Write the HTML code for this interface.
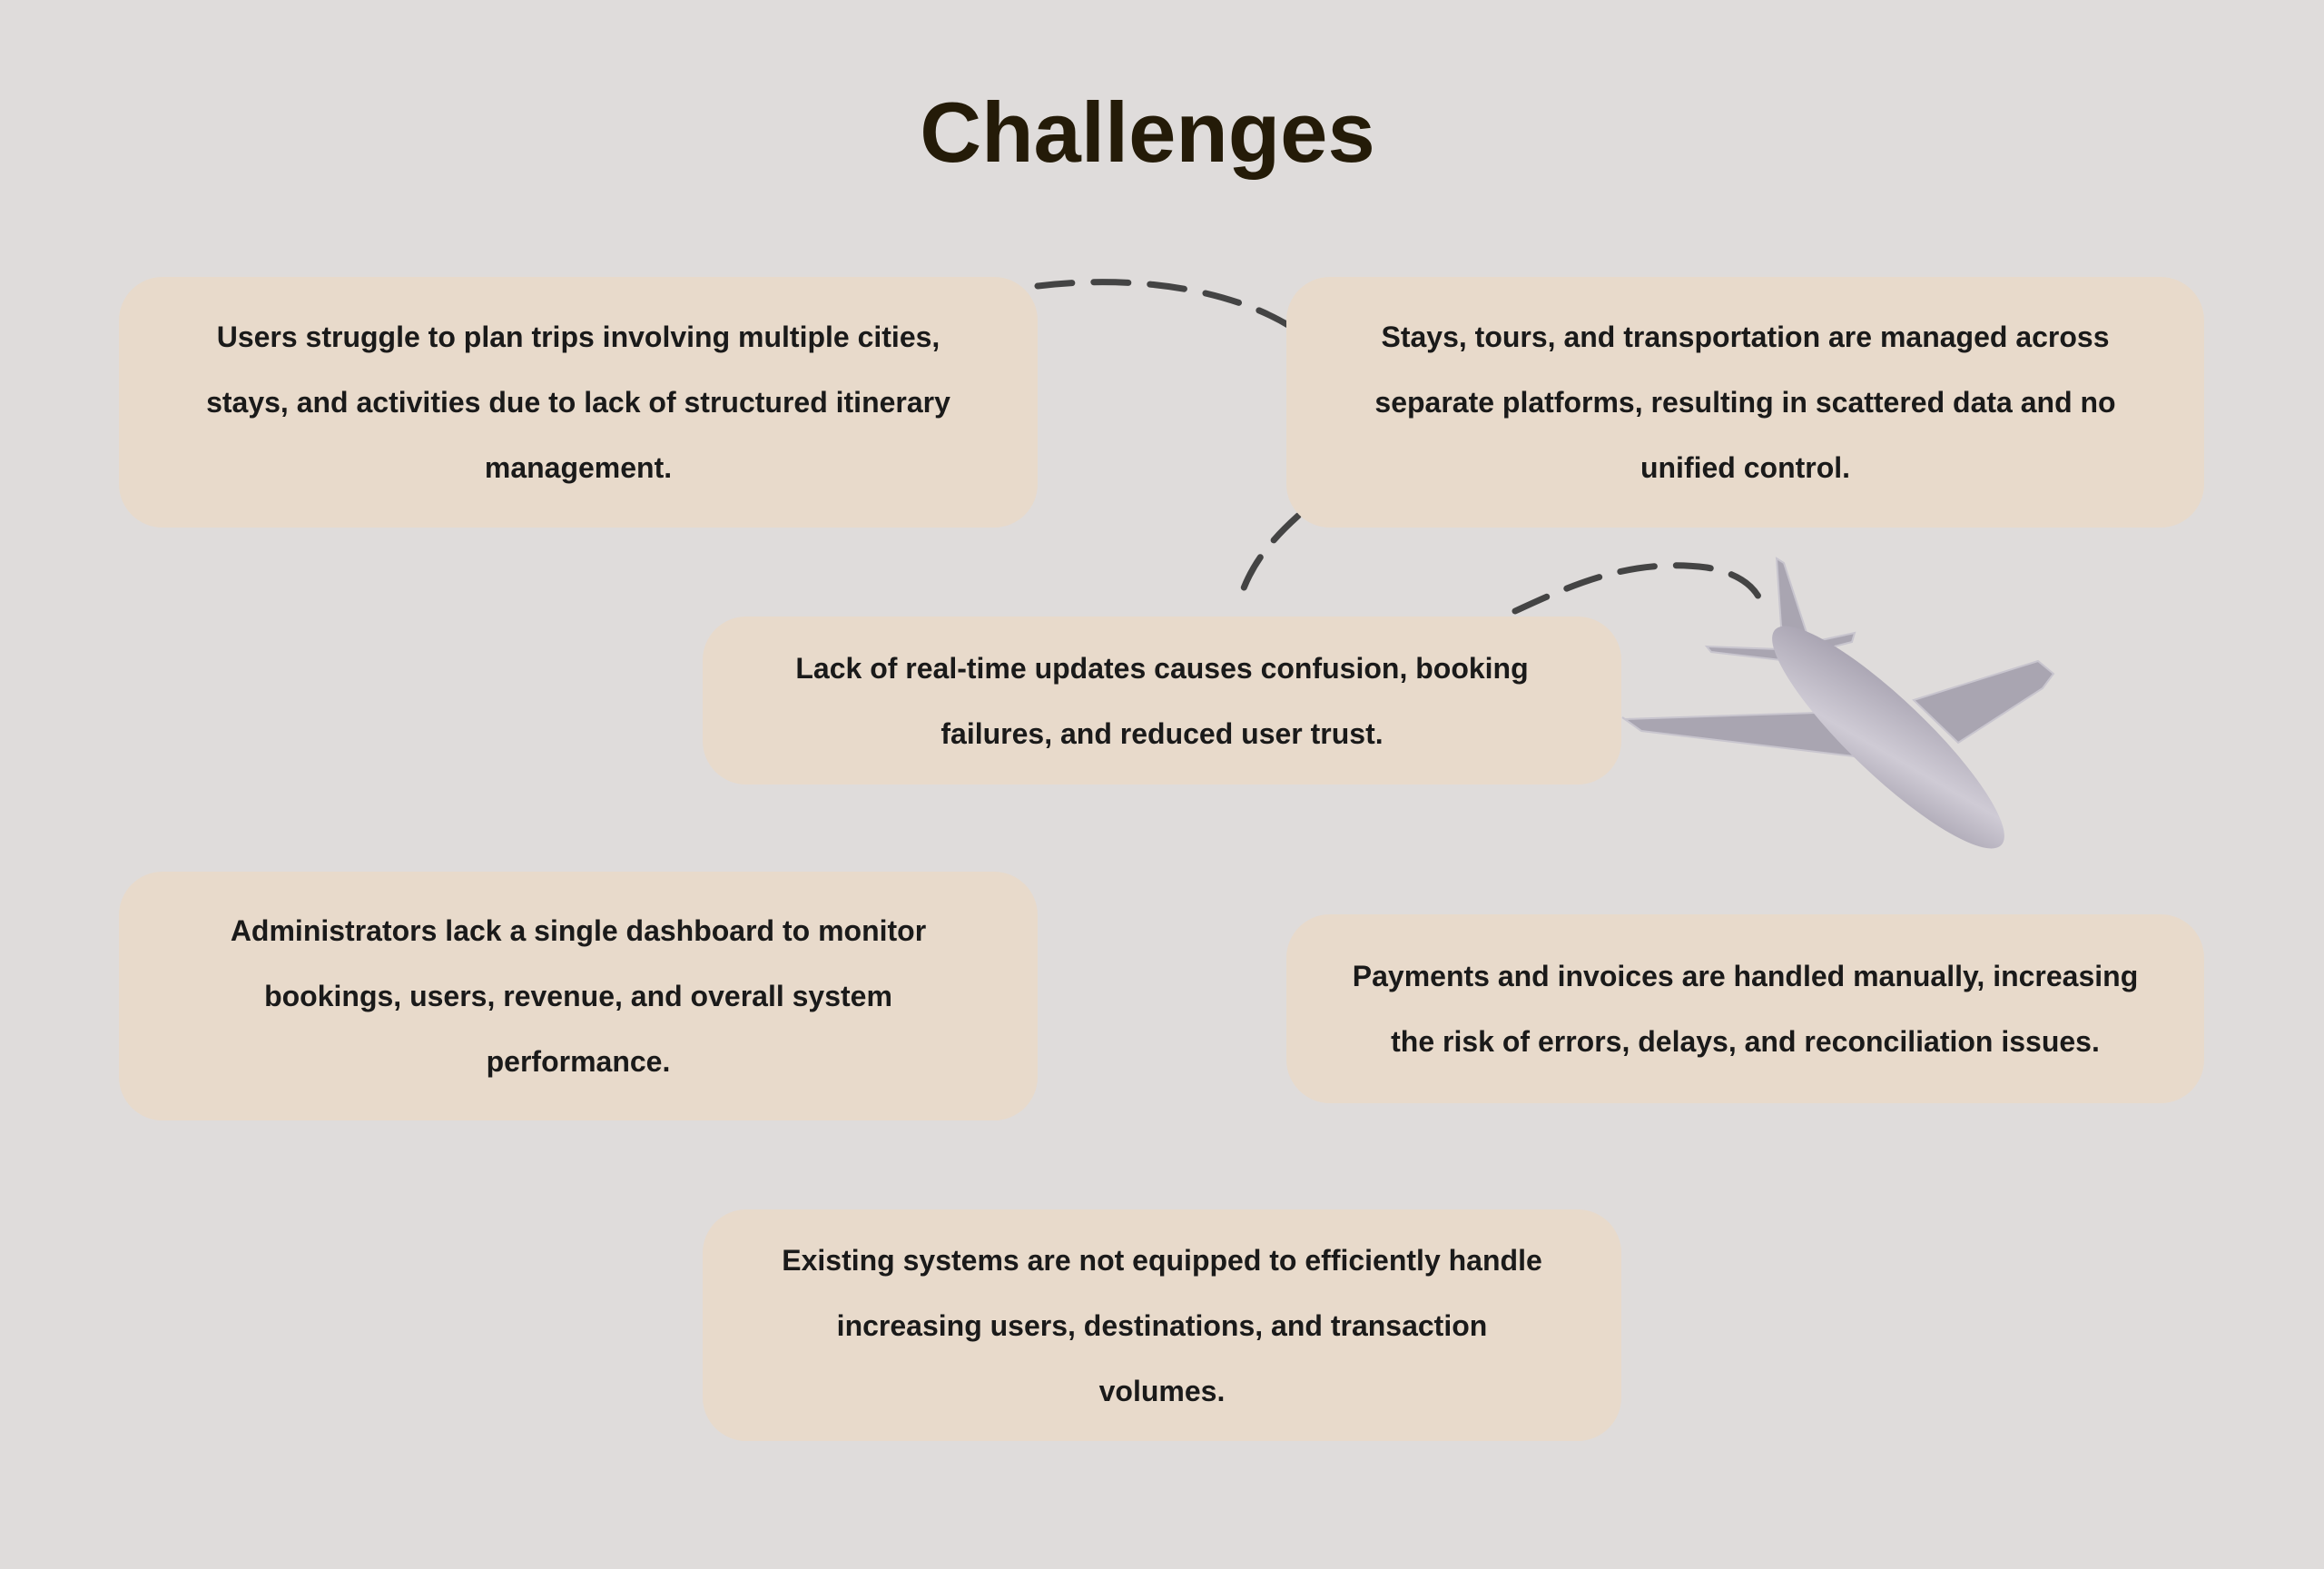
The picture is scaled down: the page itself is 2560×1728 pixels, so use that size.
<!DOCTYPE html>
<html><head><meta charset="utf-8"><style>
html,body{margin:0;padding:0}
body{width:2560px;height:1728px;background:#dfdcdb;position:relative;overflow:hidden;font-family:"Liberation Sans",sans-serif}
h1{position:absolute;top:92px;left:0;width:2528px;text-align:center;margin:0;font-size:94px;font-weight:bold;color:#241b08;letter-spacing:0px}
.b{position:absolute;background:#e8dacb;border-radius:48px;display:flex;align-items:center;justify-content:center;text-align:center;font-size:32px;font-weight:bold;color:#1a1a1a;line-height:72px;box-sizing:border-box;padding:0 60px}
svg{position:absolute;left:0;top:0}
</style></head><body>
<svg width="2560" height="1728">
<defs><linearGradient id="g" x1="0" y1="0" x2="1" y2="1"><stop offset="0" stop-color="#9e99a8"/><stop offset="0.6" stop-color="#cfcbd5"/><stop offset="1" stop-color="#a39eac"/></linearGradient></defs>
<g fill="none" stroke="#444" stroke-width="7" stroke-dasharray="38 24" stroke-linecap="round">
<path d="M1143,315 C1250,302 1360,318 1430,365"/>
<path d="M1430,568 C1400,595 1380,620 1368,653"/>
<path d="M1669,673 C1740,640 1800,615 1880,625 C1920,632 1938,650 1943,672"/>
</g>
<g fill="#a9a5b1" stroke="#c8c5ce" stroke-width="2">
<polygon points="1957,615 1965,620 1992,703 1962,690"/>
<polygon points="1880,712 1885,718 1962,727 2040,707 2043,697 1960,715"/>
<polygon points="1787,790 1808,805 2059,835 2000,785 1790,792"/>
<polygon points="2108,771 2245,728 2262,742 2250,758 2157,818"/>
</g>
<ellipse cx="2080" cy="812" rx="172" ry="42" transform="rotate(43.6 2080 812)" fill="url(#g)"/>
</svg>
<h1>Challenges</h1>
<div class="b" style="left:131px;top:305px;width:1012px;height:276px">Users struggle to plan trips involving multiple cities, stays, and activities due to lack of structured itinerary management.</div>
<div class="b" style="left:1417px;top:305px;width:1011px;height:276px">Stays, tours, and transportation are managed across separate platforms, resulting in scattered data and no unified control.</div>
<div class="b" style="left:774px;top:679px;width:1012px;height:185px">Lack of real-time updates causes confusion, booking failures, and reduced user trust.</div>
<div class="b" style="left:131px;top:960px;width:1012px;height:274px">Administrators lack a single dashboard to monitor bookings, users, revenue, and overall system performance.</div>
<div class="b" style="left:1417px;top:1007px;width:1011px;height:208px">Payments and invoices are handled manually, increasing the risk of errors, delays, and reconciliation issues.</div>
<div class="b" style="left:774px;top:1332px;width:1012px;height:255px;padding:0 40px"><div>Existing systems are not equipped to efficiently handle<br>increasing users, destinations, and transaction<br>volumes.</div></div>
</body></html>
